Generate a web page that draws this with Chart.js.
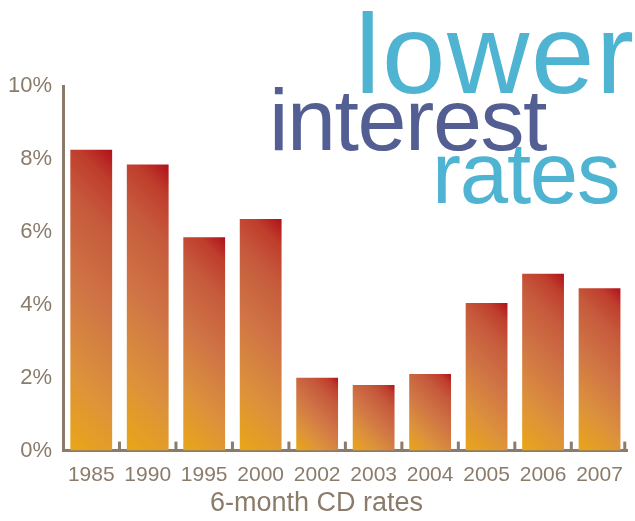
<!DOCTYPE html>
<html>
<head>
<meta charset="utf-8">
<script src="https://cdn.jsdelivr.net/npm/chart.js@4.4.1/dist/chart.umd.min.js"></script>
<style>
  html, body { margin: 0; padding: 0; background: #fff; }
  #wrap { position: relative; width: 635px; height: 521px; }
</style>
</head>
<body>
<div id="wrap"><canvas id="chart" width="635" height="521"></canvas></div>
<script>
const years = ['1985', '1990', '1995', '2000', '2002', '2003', '2004', '2005', '2006', '2007'];
const cdRates = [8.25, 7.85, 5.85, 6.35, 2.0, 1.8, 2.1, 4.05, 4.85, 4.45];
const yTicks = [0, 2, 4, 6, 8, 10];
const headline = ['lower', 'interest', 'rates'];
const xTitle = '6-month CD rates';

const BROWN = '#8b7b6b';
const BAR_PCT = 0.74;
const FONT = "'Liberation Sans', Arial, sans-serif";

// diagonal gradient per bar, yellow bottom-left to dark red top-right
function barFill(c) {
  const chart = c.chart;
  const xs = chart.scales.x, ys = chart.scales.y;
  if (!chart.chartArea || c.type !== 'data' || !xs || !ys) return '#d07545';
  const half = (xs.width / years.length) * BAR_PCT / 2;
  const cx = xs.getPixelForValue(c.dataIndex);
  const x0 = cx - half, x1 = cx + half;
  const yb = ys.getPixelForValue(0), yt = ys.getPixelForValue(c.raw);
  const a = 45 * Math.PI / 180;
  const dx = Math.sin(a), dy = -Math.cos(a);
  const t = (x1 - x0) * dx + (yt - yb) * dy;
  const g = chart.ctx.createLinearGradient(x0, yb, x0 + dx * t, yb + dy * t);
  g.addColorStop(0, '#e9a617');
  g.addColorStop(0.25, '#dc913c');
  g.addColorStop(0.5, '#d07545');
  g.addColorStop(0.75, '#c65a3c');
  g.addColorStop(0.9, '#bf3d2c');
  g.addColorStop(1, '#b0111b');
  return g;
}

// little upward ticks between categories on the x axis
const catTicks = {
  id: 'catTicks',
  afterDatasetsDraw(chart) {
    const xs = chart.scales.x, ctx = chart.ctx;
    const step = (xs.right - xs.left) / years.length;
    const base = chart.chartArea.bottom;
    ctx.save();
    ctx.fillStyle = BROWN;
    for (let i = 1; i <= years.length; i++) {
      let px = xs.left + step * i;
      if (i === years.length) px -= 3;
      ctx.fillRect(px - 1.5, base - 9, 3, 9);
    }
    ctx.restore();
  }
};

// big stacked headline in the top right
const headlinePlugin = {
  id: 'headline',
  afterDraw(chart) {
    const ctx = chart.ctx;
    const lines = [
      { text: headline[0], size: 114, color: '#4fb3d2', left: 362, right: 633, base: 93 },
      { text: headline[1], size: 88, color: '#535f93', left: 274, right: 547, base: 150 },
      { text: headline[2], size: 87, color: '#4fb3d2', left: 437, right: 618, base: 203 }
    ];
    ctx.save();
    ctx.textBaseline = 'alphabetic';
    ctx.textAlign = 'left';
    lines.forEach(l => {
      ctx.font = l.size + 'px ' + FONT;
      ctx.letterSpacing = '0px';
      let m = ctx.measureText(l.text);
      const ink = m.actualBoundingBoxLeft + m.actualBoundingBoxRight;
      const sp = ((l.right - l.left) - ink) / (l.text.length - 1);
      ctx.letterSpacing = sp + 'px';
      m = ctx.measureText(l.text);
      ctx.fillStyle = l.color;
      ctx.fillText(l.text, l.left + m.actualBoundingBoxLeft, l.base);
    });
    ctx.restore();
  }
};

new Chart(document.getElementById('chart'), {
  type: 'bar',
  data: {
    labels: years,
    datasets: [{
      data: cdRates,
      backgroundColor: barFill,
      borderWidth: 0,
      barPercentage: BAR_PCT,
      categoryPercentage: 1
    }]
  },
  options: {
    responsive: false,
    animation: false,
    events: [],
    layout: { padding: { top: 86, left: 0, right: 2, bottom: 0 } },
    plugins: {
      legend: { display: false },
      tooltip: { enabled: false },
      title: {
        display: true,
        text: xTitle,
        position: 'bottom',
        color: BROWN,
        font: { family: FONT, size: 27, weight: 'normal' },
        padding: { top: 0, bottom: 1 }
      }
    },
    scales: {
      x: {
        grid: { display: false, drawTicks: false },
        border: { display: true, color: BROWN, width: 3 },
        ticks: {
          color: BROWN,
          padding: 12,
          font: { family: FONT, size: 21 }
        },
        afterFit(s) { s.height = 37; }
      },
      y: {
        min: 0,
        max: 10,
        afterBuildTicks(s) { s.ticks = yTicks.map(v => ({ value: v })); },
        grid: { display: false, drawTicks: false },
        border: { display: true, color: BROWN, width: 3 },
        ticks: {
          color: BROWN,
          padding: 11,
          font: { family: FONT, size: 22 },
          callback: v => v + '%'
        },
        afterFit(s) { s.width = 63; }
      }
    }
  },
  plugins: [catTicks, headlinePlugin]
});
</script>
</body>
</html>
